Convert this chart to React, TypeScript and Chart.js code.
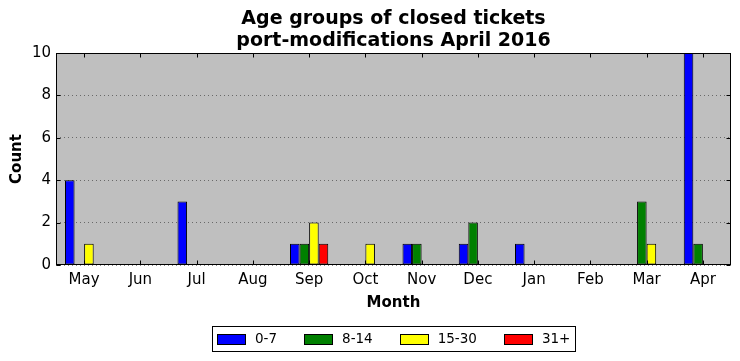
import React, { useEffect, useRef } from 'react';
import { Chart, registerables } from 'chart.js';

Chart.register(...registerables);

const months = ['May', 'Jun', 'Jul', 'Aug', 'Sep', 'Oct', 'Nov', 'Dec', 'Jan', 'Feb', 'Mar', 'Apr'];
const seriesLabels = ['0-7', '8-14', '15-30', '31+'];
const age0to7 = [4, 0, 3, 0, 1, 0, 1, 1, 1, 0, 0, 10];
const age8to14 = [0, 0, 0, 0, 1, 0, 1, 2, 0, 0, 3, 1];
const age15to30 = [1, 0, 0, 0, 2, 1, 0, 0, 0, 0, 1, 0];
const age31plus = [0, 0, 0, 0, 1, 0, 0, 0, 0, 0, 0, 0];
const seriesColors = ['#0000ff', '#008000', '#ffff00', '#ff0000'];
const titleLines = ['Age groups of closed tickets', 'port-modifications April 2016'];
const yMin = 0;
const yMax = 10;
const yStep = 2;

const FONT = "'DejaVu Sans', 'Liberation Sans', sans-serif";

const decorPlugin = {
  id: 'decor',
  beforeDraw(chart: any) {
    const { ctx, chartArea: a } = chart;
    ctx.save();
    ctx.fillStyle = '#ffffff';
    ctx.fillRect(0, 0, chart.width, chart.height);
    ctx.fillStyle = '#bfbfbf';
    ctx.fillRect(a.left, a.top, a.right - a.left, a.bottom - a.top);
    ctx.restore();
  },
  afterDatasetsDraw(chart: any) {
    const { ctx, chartArea: a, scales } = chart;
    ctx.save();
    ctx.strokeStyle = '#000';
    ctx.lineWidth = 1;
    const L = Math.round(a.left) + 0.5;
    const R = Math.round(a.right) - 0.5;
    const T = Math.round(a.top) + 0.5;
    const B = Math.round(a.bottom) - 0.5;
    ctx.strokeRect(L, T, R - L, B - T);
    const tl = 4;
    ctx.beginPath();
    const xs = scales.x;
    for (let i = 0; i < xs.ticks.length; i++) {
      const x = Math.round(xs.getPixelForTick(i)) + 0.5;
      ctx.moveTo(x, B); ctx.lineTo(x, B - tl);
      ctx.moveTo(x, T); ctx.lineTo(x, T + tl);
    }
    const ys = scales.y;
    for (const t of ys.ticks) {
      const y = Math.round(ys.getPixelForValue(t.value)) + 0.5;
      ctx.moveTo(L, y); ctx.lineTo(L + tl, y);
      ctx.moveTo(R, y); ctx.lineTo(R - tl, y);
    }
    ctx.stroke();
    ctx.restore();
  },
  afterDraw(chart: any) {
    const { ctx, chartArea: a } = chart;
    const cx = (a.left + a.right) / 2;
    ctx.save();
    // title
    ctx.fillStyle = '#000';
    ctx.font = `bold 19px ${FONT}`;
    ctx.textAlign = 'center';
    ctx.textBaseline = 'middle';
    ctx.fillText(titleLines[0], cx, 19.5);
    ctx.fillText(titleLines[1], cx, 41.5);
    // legend
    ctx.font = `13.5px ${FONT}`;
    const sw = 28, sh = 10, gapText = 10, gapItem = 27, pad = 5;
    const widths = seriesLabels.map((l) => ctx.measureText(l).width);
    let total = pad * 2;
    widths.forEach((w, i) => { total += sw + gapText + w + (i < widths.length - 1 ? gapItem : 0); });
    total = Math.round(total);
    const boxTop = 326, boxH = 25;
    const left = Math.round(cx - total / 2);
    ctx.fillStyle = '#fff';
    ctx.fillRect(left, boxTop, total, boxH);
    ctx.strokeStyle = '#000';
    ctx.lineWidth = 1;
    ctx.strokeRect(left + 0.5, boxTop + 0.5, total, boxH);
    let x = left + pad;
    const midY = boxTop + boxH / 2 + 0.5;
    ctx.textAlign = 'left';
    seriesLabels.forEach((l, i) => {
      ctx.fillStyle = seriesColors[i];
      const sx = Math.round(x), sy = Math.round(midY - sh / 2);
      ctx.fillRect(sx, sy, sw, sh);
      ctx.strokeRect(sx + 0.5, sy + 0.5, sw, sh);
      ctx.fillStyle = '#000';
      ctx.fillText(l, x + sw + gapText, midY);
      x += sw + gapText + widths[i] + gapItem;
    });
    ctx.restore();
  },
};

export default function App() {
  const ref = useRef<HTMLCanvasElement>(null);
  useEffect(() => {
    if (!ref.current) return;
    const seriesData = [age0to7, age8to14, age15to30, age31plus];
    const chart = new Chart(ref.current, {
      type: 'bar',
      data: {
        labels: months,
        datasets: seriesLabels.map((label, i) => ({
          label,
          data: seriesData[i],
          backgroundColor: seriesColors[i],
          borderColor: '#000000',
          borderWidth: 1,
          borderSkipped: false,
          barPercentage: 1,
          categoryPercentage: 0.68,
        })),
      },
      options: {
        responsive: false,
        animation: false,
        devicePixelRatio: 1,
        layout: { padding: { top: 53, right: 9, bottom: 43, left: 0 } },
        plugins: {
          legend: { display: false },
          title: { display: false },
          tooltip: { enabled: false },
        },
        scales: {
          x: {
            type: 'category',
            grid: { display: false, drawTicks: false },
            border: { display: false },
            ticks: { color: '#000', font: { family: FONT, size: 15 }, padding: 6, maxRotation: 0, autoSkip: false },
            title: { display: true, text: 'Month', color: '#000', font: { family: FONT, size: 15, weight: 'bold' }, padding: { top: 0, bottom: 6 } },
            afterFit: (s: any) => { s.height = 53; },
          },
          y: {
            min: yMin,
            max: yMax,
            grid: { color: 'rgba(0,0,0,0.45)', drawTicks: false, lineWidth: 1 },
            border: { display: false, dash: [1, 3] },
            ticks: { stepSize: yStep, color: '#000', font: { family: FONT, size: 15 }, padding: 5 },
            title: { display: true, text: 'Count', color: '#000', font: { family: FONT, size: 15, weight: 'bold' }, padding: { top: 8, bottom: 0 } },
            afterFit: (s: any) => { s.width = 56; },
          },
        },
      },
      plugins: [decorPlugin],
    } as any);
    return () => chart.destroy();
  }, []);
  return (
    <div style={{ position: 'fixed', left: 0, top: 0, width: 740, height: 361, background: '#fff' }}>
      <canvas ref={ref} width={740} height={361} style={{ display: 'block' }} />
    </div>
  );
}
